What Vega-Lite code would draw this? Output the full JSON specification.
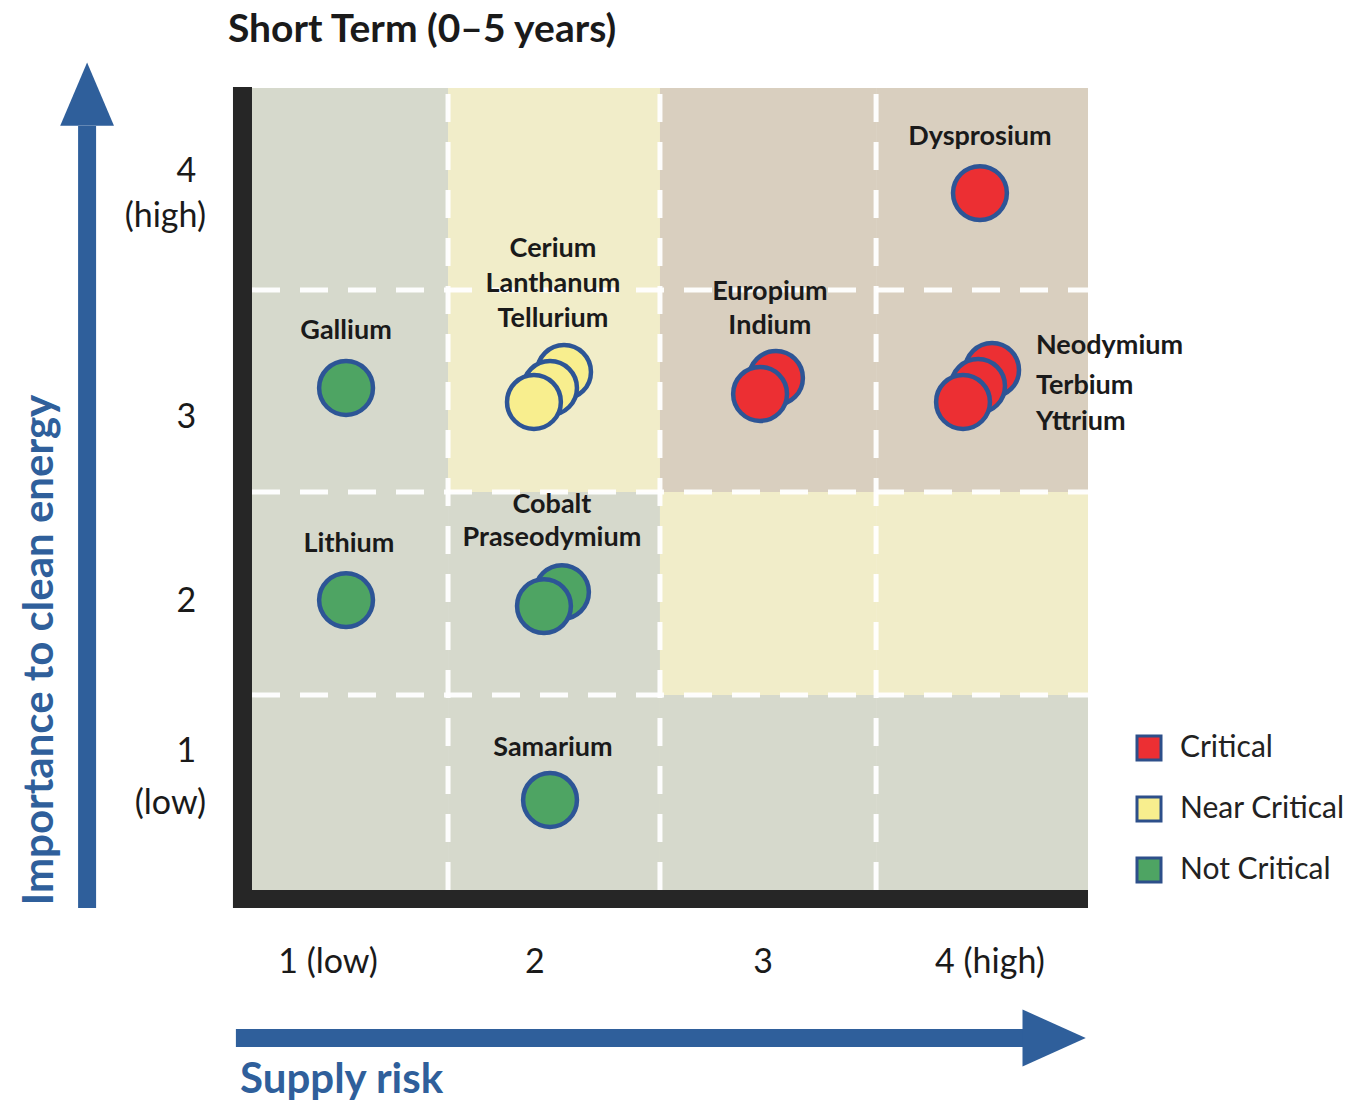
{
  "$schema": "https://vega.github.io/schema/vega-lite/v6.json",
  "width": 1353,
  "height": 1103,
  "autosize": {"type": "none"},
  "padding": 0,
  "background": "white",
  "config": {"view": {"stroke": null}, "font": "Lato"},
  "encoding": {
    "x": {"field": "x", "type": "quantitative", "scale": {"domain": [-0.7057, 5.7679], "nice": false, "zero": false}, "axis": null},
    "y": {"field": "y", "type": "quantitative", "scale": {"domain": [-0.5623, 4.9389], "nice": false, "zero": false}, "axis": null}
  },
  "resolve": {"scale": {"color": "independent"}},
  "layer": [
    {
      "data": {"values": [
        {"x": 0.5, "x2": 1.438, "y": 3.493, "y2": 4.5, "zone": "Not Critical"},
        {"x": 1.438, "x2": 2.452, "y": 3.493, "y2": 4.5, "zone": "Near Critical"},
        {"x": 2.452, "x2": 3.486, "y": 3.493, "y2": 4.5, "zone": "Critical"},
        {"x": 3.486, "x2": 4.5, "y": 3.493, "y2": 4.5, "zone": "Critical"},
        {"x": 0.5, "x2": 1.438, "y": 2.485, "y2": 3.493, "zone": "Not Critical"},
        {"x": 1.438, "x2": 2.452, "y": 2.485, "y2": 3.493, "zone": "Near Critical"},
        {"x": 2.452, "x2": 3.486, "y": 2.485, "y2": 3.493, "zone": "Critical"},
        {"x": 3.486, "x2": 4.5, "y": 2.485, "y2": 3.493, "zone": "Critical"},
        {"x": 0.5, "x2": 1.438, "y": 1.473, "y2": 2.485, "zone": "Not Critical"},
        {"x": 1.438, "x2": 2.452, "y": 1.473, "y2": 2.485, "zone": "Not Critical"},
        {"x": 2.452, "x2": 3.486, "y": 1.473, "y2": 2.485, "zone": "Near Critical"},
        {"x": 3.486, "x2": 4.5, "y": 1.473, "y2": 2.485, "zone": "Near Critical"},
        {"x": 0.5, "x2": 1.438, "y": 0.5, "y2": 1.473, "zone": "Not Critical"},
        {"x": 1.438, "x2": 2.452, "y": 0.5, "y2": 1.473, "zone": "Not Critical"},
        {"x": 2.452, "x2": 3.486, "y": 0.5, "y2": 1.473, "zone": "Not Critical"},
        {"x": 3.486, "x2": 4.5, "y": 0.5, "y2": 1.473, "zone": "Not Critical"}
      ]},
      "mark": {"type": "rect", "strokeWidth": 0},
      "encoding": {
        "x2": {"field": "x2"},
        "y2": {"field": "y2"},
        "color": {"field": "zone", "type": "nominal", "scale": {"domain": ["Critical", "Near Critical", "Not Critical"], "range": ["#d9cfbf", "#f1edc9", "#d6d9cc"]}, "legend": null}
      }
    },
    {
      "data": {"values": [
        {"x": 1.438, "x2": 1.438, "y": 0.5, "y2": 4.5},
        {"x": 2.452, "x2": 2.452, "y": 0.5, "y2": 4.5},
        {"x": 3.486, "x2": 3.486, "y": 0.5, "y2": 4.5},
        {"x": 0.5, "x2": 4.5, "y": 1.473, "y2": 1.473},
        {"x": 0.5, "x2": 4.5, "y": 2.485, "y2": 2.485},
        {"x": 0.5, "x2": 4.5, "y": 3.493, "y2": 3.493}
      ]},
      "mark": {"type": "rule", "color": "#ffffff", "strokeWidth": 5, "strokeDash": [28, 20], "opacity": 0.95},
      "encoding": {"x2": {"field": "x2"}, "y2": {"field": "y2"}}
    },
    {
      "data": {"values": [
        {"x": 0.409, "x2": 0.5, "y": 0.41, "y2": 4.505},
        {"x": 0.409, "x2": 4.5, "y": 0.41, "y2": 0.5}
      ]},
      "mark": {"type": "rect", "color": "#262626", "strokeWidth": 0},
      "encoding": {"x2": {"field": "x2"}, "y2": {"field": "y2"}}
    },
    {
      "data": {"values": [
        {"x": -0.289, "x2": -0.289, "y": 0.41, "y2": 4.31},
        {"x": 0.423, "x2": 4.23, "y": -0.238, "y2": -0.238}
      ]},
      "mark": {"type": "rule", "color": "#2f5f9b", "strokeWidth": 18, "strokeCap": "butt"},
      "encoding": {"x2": {"field": "x2"}, "y2": {"field": "y2"}}
    },
    {
      "data": {"values": [
        {"x": -0.289, "y": 4.47, "dir": "up"},
        {"x": 4.338, "y": -0.238, "dir": "right"}
      ]},
      "mark": {"type": "point", "filled": true, "color": "#2f5f9b", "opacity": 1, "size": 4000},
      "encoding": {
        "shape": {"field": "dir", "type": "nominal", "scale": {"domain": ["up", "right"], "range": ["M0,-1L0.85,1L-0.85,1Z", "M1,0L-1,0.9L-1,-0.9Z"]}, "legend": null}
      }
    },
    {
      "data": {"values": [
        {"element": "Dysprosium", "x": 3.983, "y": 3.976, "status": "Critical"},
        {"element": "Neodymium", "x": 4.041, "y": 3.094, "status": "Critical"},
        {"element": "Terbium", "x": 3.974, "y": 3.014, "status": "Critical"},
        {"element": "Yttrium", "x": 3.902, "y": 2.934, "status": "Critical"},
        {"element": "Europium", "x": 3.007, "y": 3.054, "status": "Critical"},
        {"element": "Indium", "x": 2.931, "y": 2.974, "status": "Critical"},
        {"element": "Cerium", "x": 1.993, "y": 3.084, "status": "Near Critical"},
        {"element": "Lanthanum", "x": 1.926, "y": 3.004, "status": "Near Critical"},
        {"element": "Tellurium", "x": 1.849, "y": 2.934, "status": "Near Critical"},
        {"element": "Gallium", "x": 0.95, "y": 3.004, "status": "Not Critical"},
        {"element": "Lithium", "x": 0.95, "y": 1.946, "status": "Not Critical"},
        {"element": "Cobalt", "x": 1.983, "y": 1.986, "status": "Not Critical"},
        {"element": "Praseodymium", "x": 1.897, "y": 1.916, "status": "Not Critical"},
        {"element": "Samarium", "x": 1.926, "y": 0.949, "status": "Not Critical"}
      ]},
      "mark": {"type": "point", "shape": "circle", "filled": true, "opacity": 1, "size": 2900, "stroke": "#2d5596", "strokeWidth": 4.5},
      "encoding": {
        "color": {
          "field": "status", "type": "nominal",
          "scale": {"domain": ["Critical", "Near Critical", "Not Critical"], "range": ["#ec2f33", "#f8ee8e", "#4ea463"]},
          "legend": {
            "title": null, "orient": "none", "legendX": 1134, "legendY": 733,
            "symbolType": "square", "symbolSize": 576, "symbolStrokeColor": "#2d4f8a", "symbolStrokeWidth": 3, "symbolOpacity": 1,
            "labelFont": "Lato", "labelFontSize": 30, "labelColor": "#222222", "labelOffset": 16,
            "rowPadding": 25, "padding": 0, "offset": 0, "labelLimit": 400
          }
        }
      }
    },
    {
      "data": {"values": [
        {"label": "Dysprosium", "x": 3.983, "y": 4.256},
        {"label": "Cerium", "x": 1.94, "y": 3.697},
        {"label": "Lanthanum", "x": 1.94, "y": 3.522},
        {"label": "Tellurium", "x": 1.94, "y": 3.348},
        {"label": "Gallium", "x": 0.95, "y": 3.288},
        {"label": "Europium", "x": 2.978, "y": 3.483},
        {"label": "Indium", "x": 2.978, "y": 3.313},
        {"label": "Lithium", "x": 0.964, "y": 2.226},
        {"label": "Cobalt", "x": 1.935, "y": 2.42},
        {"label": "Praseodymium", "x": 1.935, "y": 2.256},
        {"label": "Samarium", "x": 1.94, "y": 1.208}
      ]},
      "mark": {"type": "text", "font": "Lato", "fontWeight": "bold", "fontSize": 27, "color": "#1a1a1a", "align": "center", "baseline": "middle"},
      "encoding": {"text": {"field": "label"}}
    },
    {
      "data": {"values": [
        {"label": "Neodymium", "x": 4.251, "y": 3.213},
        {"label": "Terbium", "x": 4.251, "y": 3.014},
        {"label": "Yttrium", "x": 4.251, "y": 2.834}
      ]},
      "mark": {"type": "text", "font": "Lato", "fontWeight": "bold", "fontSize": 27, "color": "#1a1a1a", "align": "left", "baseline": "middle"},
      "encoding": {"text": {"field": "label"}}
    },
    {
      "data": {"values": [
        {"label": "1 (low)", "x": 0.864, "y": 0.136},
        {"label": "2", "x": 1.854, "y": 0.136},
        {"label": "3", "x": 2.945, "y": 0.136},
        {"label": "4 (high)", "x": 4.031, "y": 0.136}
      ]},
      "mark": {"type": "text", "font": "Lato", "fontSize": 34, "color": "#1a1a1a", "align": "center", "baseline": "middle"},
      "encoding": {"text": {"field": "label"}}
    },
    {
      "data": {"values": [
        {"label": "4", "x": 0.233, "y": 4.081},
        {"label": "(high)", "x": 0.28, "y": 3.857},
        {"label": "3", "x": 0.233, "y": 2.854},
        {"label": "2", "x": 0.233, "y": 1.936},
        {"label": "1", "x": 0.233, "y": 1.188},
        {"label": "(low)", "x": 0.28, "y": 0.929}
      ]},
      "mark": {"type": "text", "font": "Lato", "fontSize": 34, "color": "#1a1a1a", "align": "right", "baseline": "middle"},
      "encoding": {"text": {"field": "label"}}
    },
    {
      "data": {"values": [{"label": "Short Term (0–5 years)", "x": 0.385, "y": 4.789}]},
      "mark": {"type": "text", "font": "Lato", "fontWeight": "bold", "fontSize": 39, "color": "#1a1a1a", "align": "left", "baseline": "middle"},
      "encoding": {"text": {"field": "label"}}
    },
    {
      "data": {"values": [{"label": "Supply risk", "x": 0.443, "y": -0.448}]},
      "mark": {"type": "text", "font": "Lato", "fontWeight": "bold", "fontSize": 42, "color": "#2f5f9b", "align": "left", "baseline": "middle"},
      "encoding": {"text": {"field": "label"}}
    },
    {
      "data": {"values": [{"label": "Importance to clean energy", "x": -0.514, "y": 1.697}]},
      "mark": {"type": "text", "font": "Lato", "fontWeight": "bold", "fontSize": 42, "color": "#2f5f9b", "align": "center", "baseline": "middle", "angle": 270},
      "encoding": {"text": {"field": "label"}}
    }
  ]
}
